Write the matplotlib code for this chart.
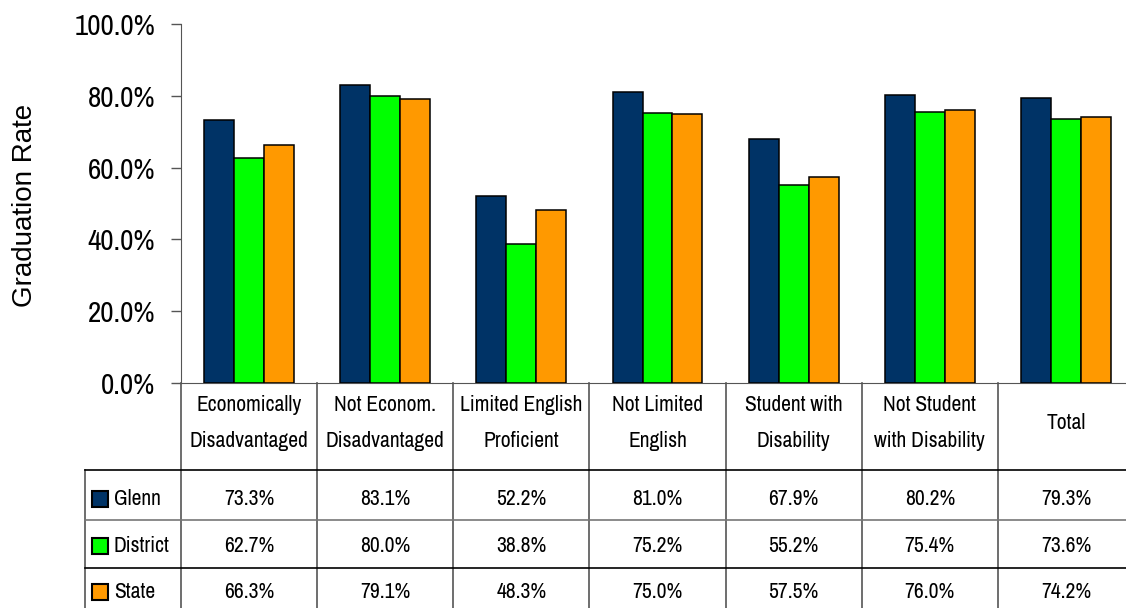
import matplotlib
matplotlib.use("Agg")
import numpy as np
import matplotlib.pyplot as plt
from matplotlib.transforms import blended_transform_factory

# data
categories = ["Economically\nDisadvantaged", "Not Econom.\nDisadvantaged",
              "Limited English\nProficient", "Not Limited\nEnglish",
              "Student with\nDisability", "Not Student\nwith Disability", "Total"]
series = ["Glenn", "District", "State"]
glenn = [73.3, 83.1, 52.2, 81.0, 67.9, 80.2, 79.3]
district = [62.7, 80.0, 38.8, 75.2, 55.2, 75.4, 73.6]
state = [66.3, 79.1, 48.3, 75.0, 57.5, 76.0, 74.2]
yticks = [0, 20, 40, 60, 80, 100]

colors = ["#003366", "#00FF00", "#FF9900"]
narrow = ["Liberation Sans Narrow", "Arial Narrow", "Archivo Narrow", "DejaVu Sans"]
plain = ["Liberation Sans", "Arimo", "Arial", "DejaVu Sans"]

W, H = 1126, 608
fig = plt.figure(figsize=(W / 100, H / 100), dpi=100)

# axes box in pixels
x0, x1, ytop, ybot = 181, 1134, 24, 383
ax = fig.add_axes([x0 / W, (H - ybot) / H, (x1 - x0) / W, (ybot - ytop) / H])

x = np.arange(len(categories))
bw = 0.22
for k, vals in enumerate([glenn, district, state]):
    ax.bar(x + (k - 1) * bw, np.array(vals) / 100, bw, color=colors[k],
           edgecolor="black", linewidth=1.1, zorder=3)

ax.set_xlim(-0.5, len(categories) - 0.5)
ax.set_ylim(0, 1)
ax.set_yticks([t / 100 for t in yticks])
ax.set_yticklabels(["%.1f%%" % t for t in yticks], family=narrow, fontsize=21)
ax.set_xticks([])
ax.tick_params(axis="y", direction="out", length=7.5, width=1, color="#555555", pad=11)
for s in ["top", "right"]:
    ax.spines[s].set_visible(False)
ax.spines["left"].set_color("#555555")
ax.spines["bottom"].set_color("#555555")

fig.text(25 / W, 1 - 205 / H, "Graduation Rate", rotation=90, ha="center",
         va="center", family=plain, fontsize=20)

# table under the axis, x in data units, y in axes fraction
tr = blended_transform_factory(ax.transData, ax.transAxes)
def ay(py):
    return (ybot - py) / (ybot - ytop)

def axx(px):
    return (px - x0) / 136 - 0.5

x_left = axx(85)
y_head = ay(470)
y_rows = [ay(470), ay(520), ay(568), ay(640)]
n = len(categories)

for i in range(n + 1):
    ax.plot([i - 0.5, i - 0.5], [0, y_rows[-1]], color="#555555", lw=1.2,
            transform=tr, clip_on=False)
ax.plot([x_left, x_left], [y_head, y_rows[-1]], color="#555555", lw=1.2,
        transform=tr, clip_on=False)
for j, yy in enumerate(y_rows[:3]):
    ax.plot([x_left, n - 0.5], [yy, yy], color="#777777" if j == 1 else "black",
            lw=1.2, transform=tr, clip_on=False)

for i, c in enumerate(categories):
    ax.text(i, ay(423), c, ha="center", va="center", family=narrow,
            fontsize=15.5, linespacing=1.95, transform=tr)

row_y = [ay(499), ay(546), ay(592)]
for j, (name, vals) in enumerate(zip(series, [glenn, district, state])):
    ax.plot([axx(100)], [row_y[j]], marker="s", markersize=11,
            markerfacecolor=colors[j], markeredgecolor="black", markeredgewidth=1.5,
            transform=tr, clip_on=False)
    ax.text(axx(114), row_y[j], name, ha="left", va="center",
            family=narrow, fontsize=15.5, transform=tr)
    for i, v in enumerate(vals):
        ax.text(i, row_y[j], "%.1f%%" % v, ha="center", va="center",
                family=narrow, fontsize=15.5, transform=tr)

fig.savefig("out.png", dpi=100)
